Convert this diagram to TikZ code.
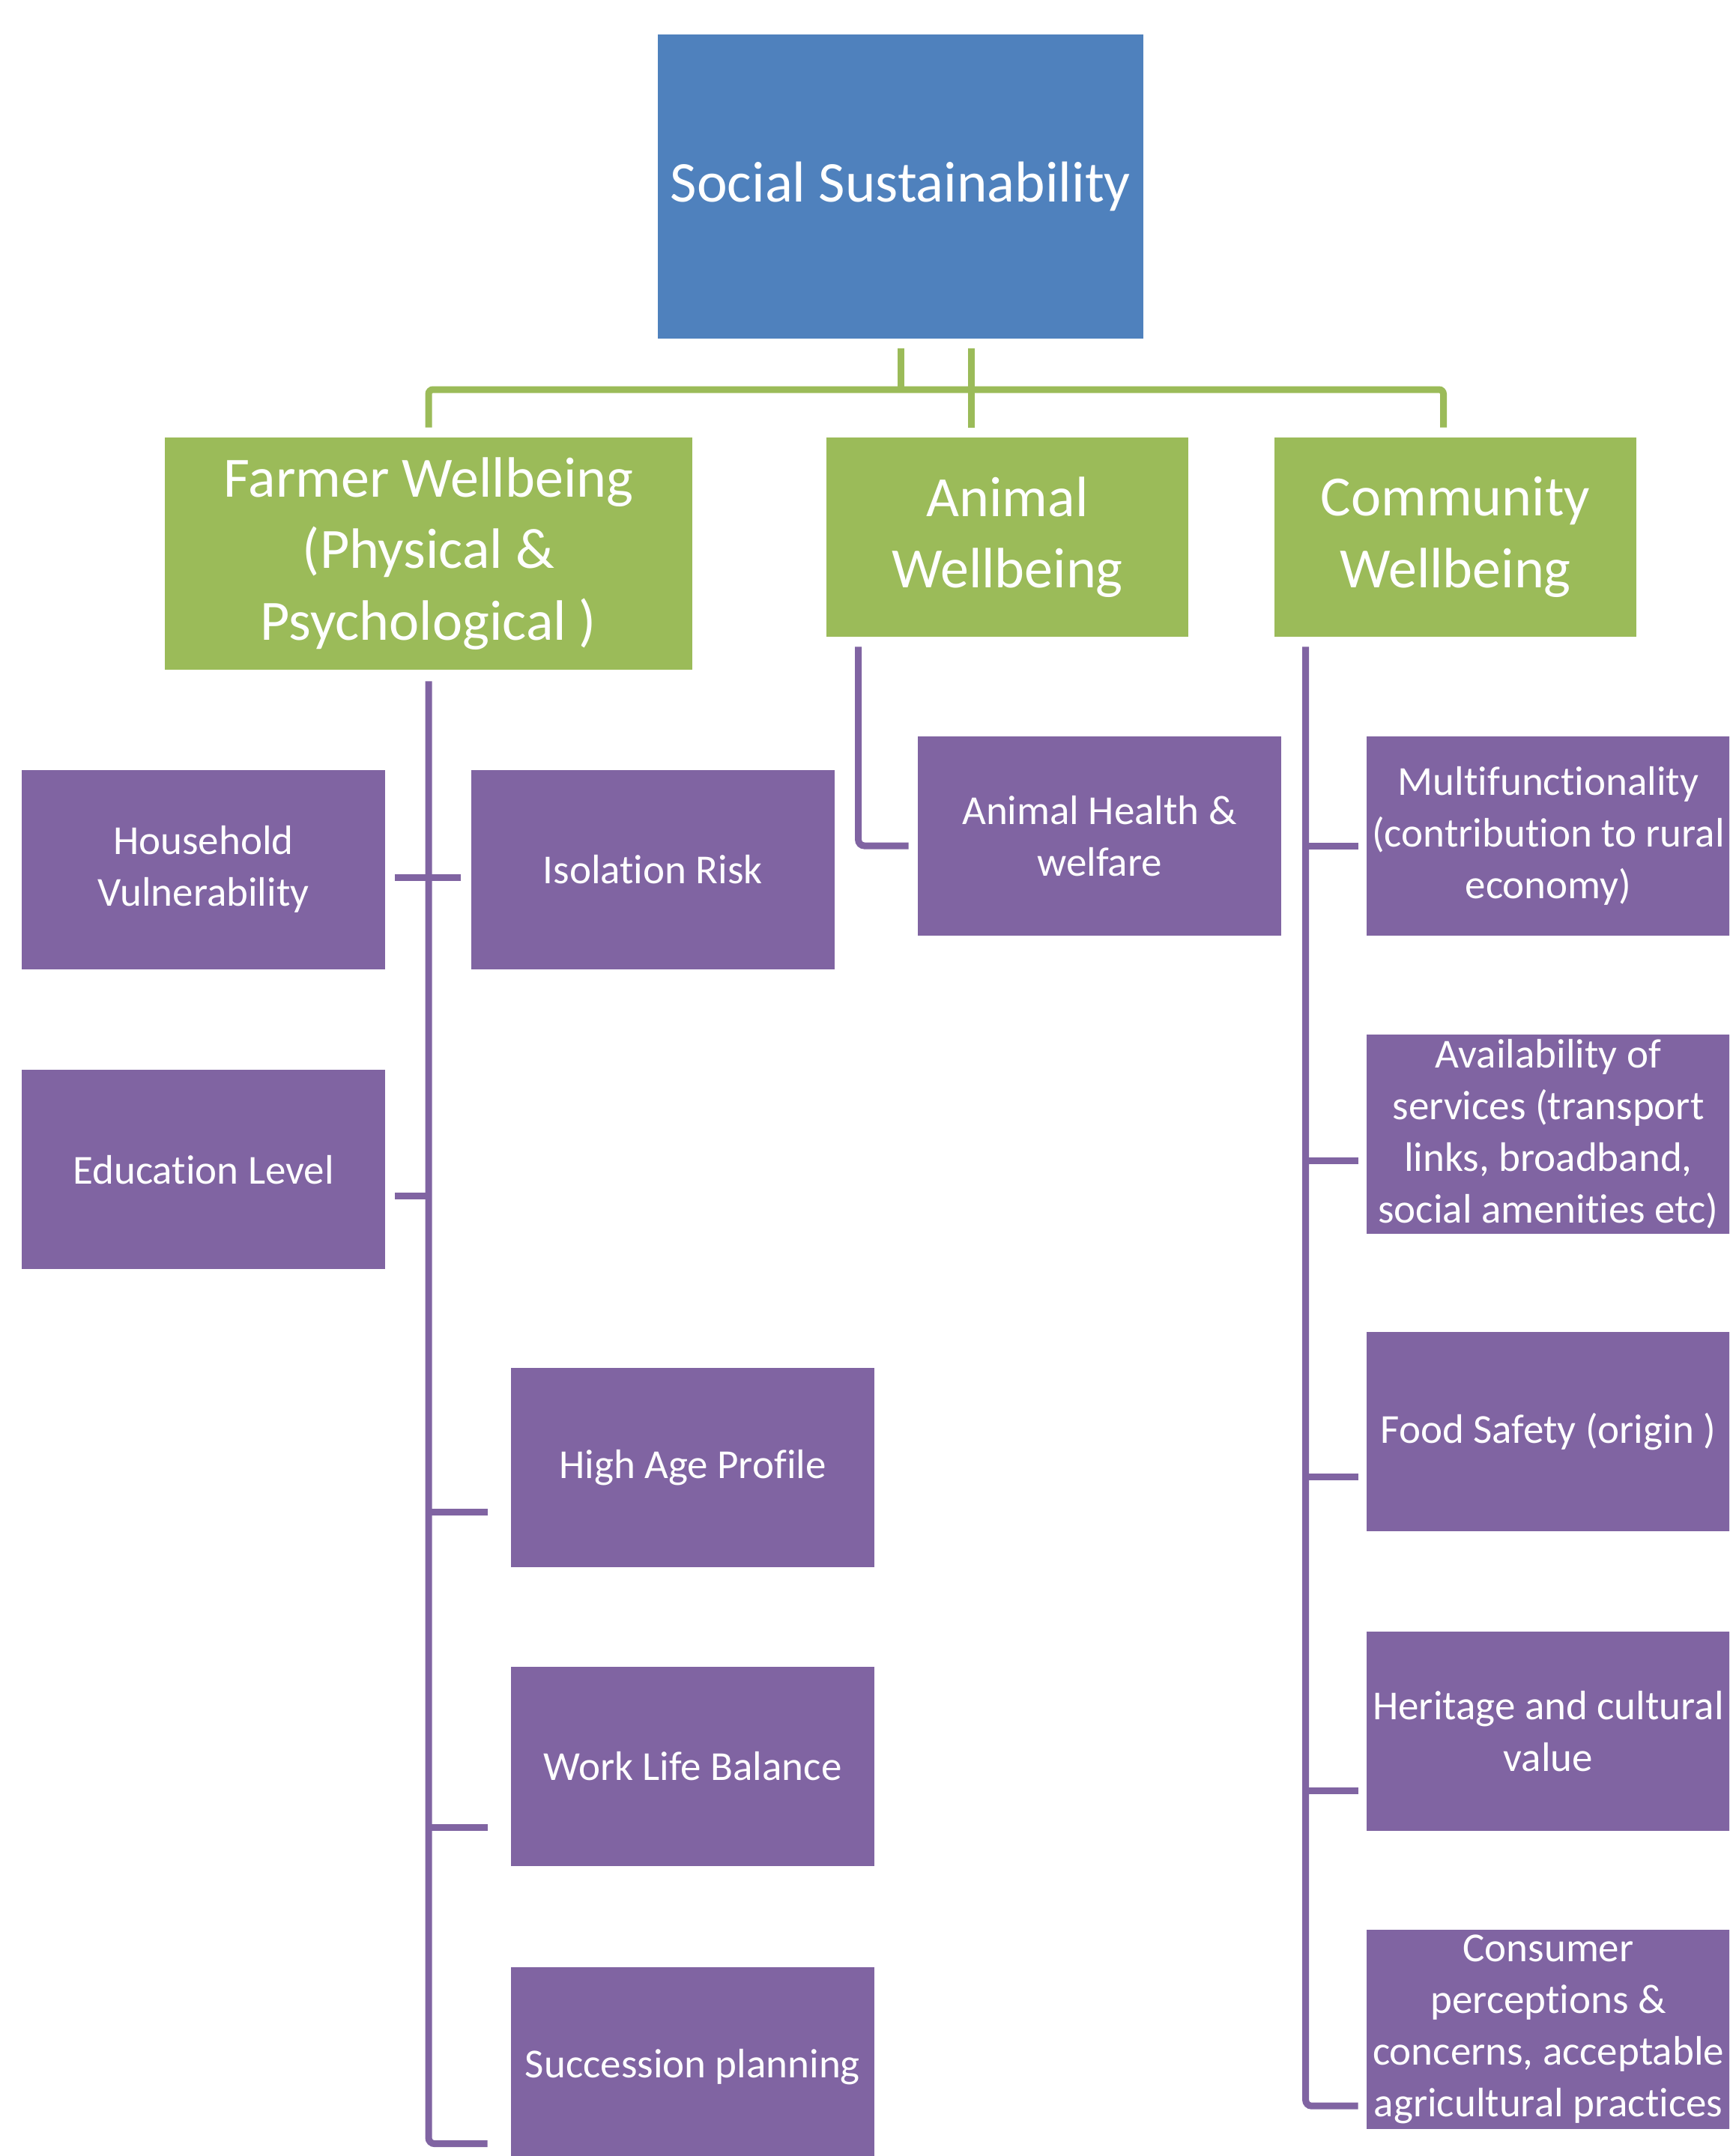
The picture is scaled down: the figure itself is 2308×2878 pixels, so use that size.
\documentclass[tikz,border=0pt]{standalone}
\usepackage{fontspec}
\setmainfont[Ligatures=NoCommon]{Carlito}
\usepackage{xcolor}
\usepackage{tikz}
\usetikzlibrary{positioning, calc}

\definecolor{ssblue}{HTML}{4F81BD}
\definecolor{ssgreen}{HTML}{9BBB59}
\definecolor{sspurple}{HTML}{8064A2}

\begin{document}
\begin{tikzpicture}[
    x=0.5pt, y=-0.5pt,
    node distance=66pt and 57pt,
    % --- Node styles ---
    topnode/.style={
        fill=ssblue, text=white, inner sep=0pt,
        minimum width=324pt, minimum height=203pt,
        align=center, font=\fontsize{38.5}{47}\selectfont
    },
    groupnode/.style={
        fill=ssgreen, text=white, inner sep=0pt,
        minimum width=241.5pt, minimum height=133pt,
        align=center, font=\fontsize{38}{47.75}\selectfont
    },
    itemnode/.style={
        fill=sspurple, text=white, inner sep=0pt,
        minimum width=242.5pt, minimum height=133pt,
        align=center, font=\fontsize{27.5}{34.5}\selectfont
    },
    % --- Connector styles ---
    greenlink/.style={draw=ssgreen, line width=4.5pt, rounded corners=3pt},
    purplelink/.style={draw=sspurple, line width=4.5pt, rounded corners=4pt},
]
\clip (0,0) rectangle (2308,2878);

% ---- Top and group nodes ----
\node[topnode] (social) at (1202,249) {Social Sustainability};

\node[groupnode, minimum width=352pt, minimum height=155pt] (farmer) at (572,739)
    {Farmer Wellbeing\\(Physical \&\\Psychological )};
\node[groupnode] (animal) at (1344.5,717) {Animal\\Wellbeing};
\node[groupnode] (community) at (1942.5,717) {Community\\Wellbeing};

% ---- Farmer items ----
\node[itemnode] (household) at (271.5,1160.5) {Household\\Vulnerability};
\node[itemnode, right=of household] (isolation) {Isolation Risk};
\node[itemnode, below=67pt of household] (education) {Education Level};
\node[itemnode] (agepro) at (924.5,1959) {High Age Profile};
\node[itemnode, below=of agepro] (worklife) {Work Life Balance};
\node[itemnode, below=67pt of worklife] (succession) {Succession planning};

% ---- Animal item ----
\node[itemnode] (health) at (1467.5,1116) {Animal Health \&\\welfare};

% ---- Community items ----
\node[itemnode] (multifunc) at (2066.5,1116)
    {Multifunctionality\\(contribution to rural\\economy)};
\node[itemnode, below=65.5pt of multifunc] (services)
    {Availability of\\services (transport\\links, broadband,\\social amenities etc)};
\node[itemnode, below=65pt of services] (food) {Food Safety (origin )};
\node[itemnode, below=67pt of food] (heritage) {Heritage and cultural\\value};
\node[itemnode, below=65.5pt of heritage] (consumer)
    {Consumer\\perceptions \&\\concerns, acceptable\\agricultural practices};

% ---- Green connectors ----
\coordinate (bar) at (0,520);
\draw[greenlink, shorten <=6.5pt] (social.south) -- (social.south |- bar);
\draw[greenlink, shorten <=6.5pt, shorten >=6.5pt]
    (farmer.north) -- (farmer.north |- bar) -| ([xshift=-8pt]community.north);
\draw[greenlink, shorten <=6.5pt, shorten >=6.5pt]
    ([xshift=47pt]social.south) -- ([xshift=47pt]social.south |- animal.north);

% ---- Farmer connectors ----
\draw[purplelink, shorten <=7.5pt, shorten >=15.5pt]
    (farmer.south) |- ([yshift=-51.5pt]succession.west);
\draw[purplelink, shorten <=6.5pt, shorten >=6.5pt]
    ([yshift=-5.5pt]household.east) -- ([yshift=-5.5pt]isolation.west);
\path ([yshift=-17.5pt]education.east) coordinate (jeducation);
\draw[purplelink, shorten <=6.5pt] (jeducation) -- (jeducation -| farmer.south);
\foreach \nd/\dy in {agepro/29.5pt, worklife/41pt}{
    \path ([yshift=-\dy]\nd.west) coordinate (j\nd);
    \draw[purplelink, shorten >=15.5pt] (j\nd -| farmer.south) -- (j\nd);
}

% ---- Animal connector ----
\coordinate (atrunk) at ([xshift=21.5pt]animal.south west);
\draw[purplelink, shorten <=6.5pt, shorten >=6pt]
    (atrunk) |- ([yshift=-6.5pt]health.west);

% ---- Community connectors ----
\coordinate (ctrunk) at ([xshift=21pt]community.south west);
\draw[purplelink, shorten <=6.5pt, shorten >=5.5pt]
    (ctrunk) |- ([yshift=-51pt]consumer.west);
\foreach \nd/\dy in {multifunc/6.5pt, services/18pt, food/30.5pt, heritage/39.5pt}{
    \path ([yshift=-\dy]\nd.west) coordinate (j\nd);
    \draw[purplelink, shorten >=5.5pt] (j\nd -| ctrunk) -- (j\nd);
}

\end{tikzpicture}
\end{document}
